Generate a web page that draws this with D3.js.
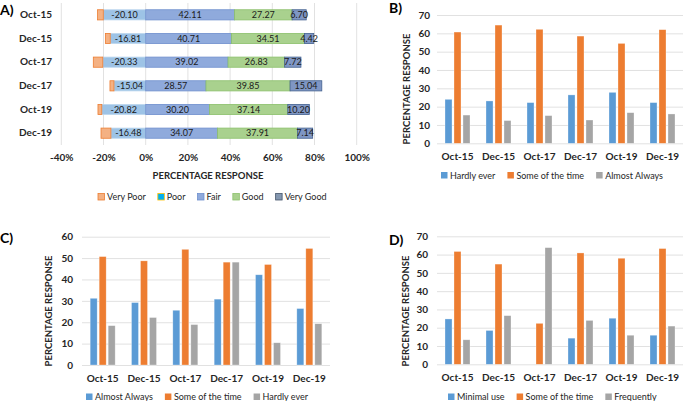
<!DOCTYPE html>
<html><head><meta charset="utf-8">
<script src="https://cdn.jsdelivr.net/npm/d3@7"></script>
<style>body{margin:0;background:#fff}svg{display:block;font-family:Lato,"Open Sans",sans-serif}</style>
</head><body><svg id="c" width="685" height="401"></svg>
<script>
// ---------- DATA ----------
const categories = ["Oct-15","Dec-15","Oct-17","Dec-17","Oct-19","Dec-19"];

// Panel A (stacked, percent)
const aVeryPoor = [2.7, 2.3, 4.5, 1.9, 1.8, 4.7];
const aPoor     = [20.10, 16.81, 20.33, 15.04, 20.82, 16.48];
const aFair     = [42.11, 40.71, 39.02, 28.57, 30.20, 34.07];
const aGood     = [27.27, 34.51, 26.83, 39.85, 37.14, 37.91];
const aVeryGood = [6.70, 4.42, 7.72, 15.04, 10.20, 7.14];
const aTicks = [-40,-20,0,20,40,60,80,100];
const aLegend = ["Very Poor","Poor","Fair","Good","Very Good"];

// Panel B
const bSeries = ["Hardly ever","Some of the time","Almost Always"];
const bHardly = [24.0, 23.1, 22.2, 26.4, 27.8, 22.2];
const bSome   = [60.7, 64.5, 62.2, 58.5, 54.5, 62.0];
const bAlmost = [15.4, 12.4, 15.1, 12.7, 16.7, 16.0];

// Panel C
const cSeries = ["Almost Always","Some of the time","Hardly ever"];
const cAlmost = [31.2, 29.2, 25.6, 30.8, 42.2, 26.4];
const cSome   = [50.7, 48.7, 54.1, 48.1, 47.0, 54.5];
const cHardly = [18.4, 22.2, 18.9, 48.1, 10.4, 19.3];

// Panel D
const dSeries = ["Minimal use","Some of the time","Frequently"];
const dMinimal = [24.8, 18.5, 0, 14.3, 25.2, 15.9];
const dSome    = [61.7, 54.8, 22.4, 60.9, 58.0, 63.3];
const dFreq    = [13.4, 26.6, 63.8, 24.0, 15.9, 20.9];

const yTicks70 = [0,10,20,30,40,50,60,70];
const yTicks60 = [0,10,20,30,40,50,60];

// ---------- DRAW ----------
const svg = d3.select("#c");
const TXT = "#262626";
const GRID = "#d9d9d9";

function panelLabel(t, x, y){
  svg.append("text").attr("x",x).attr("y",y).attr("font-size",14).attr("font-weight","bold")
    .attr("fill","#000").text(t);
}

function legend(items, colors, strokes, x, y){
  const g = svg.append("g");
  let cx = x;
  items.forEach((name,i)=>{
    g.append("rect").attr("x",cx).attr("y",y-6.5).attr("width",6.5).attr("height",6.5)
      .attr("fill",colors[i]).attr("stroke",strokes ? strokes[i] : "none").attr("stroke-width",strokes?0.8:0);
    const t = g.append("text").attr("x",cx+9).attr("y",y).attr("font-size",9).attr("fill",TXT).text(name);
    cx += 9 + t.node().getComputedTextLength() + 12;
  });
}

// ===== Panel A =====
panelLabel("A)", 0, 15);
const xA = d3.scaleLinear().domain([-40,100]).range([61.3,356.7]);
const yA = d3.scaleBand().domain(categories).range([3,145]).paddingInner(0.57).paddingOuter(0.285);
const gA = svg.append("g");
gA.selectAll("line.g").data(aTicks).join("line").attr("class","g")
  .attr("x1",d=>xA(d)).attr("x2",d=>xA(d)).attr("y1",3).attr("y2",145).attr("stroke",GRID).attr("stroke-width",0.8);

const rowsA = categories.map((c,i)=>({cat:c, Poor:-aPoor[i], VeryPoor:-aVeryPoor[i], Fair:aFair[i], Good:aGood[i], VeryGood:aVeryGood[i]}));
const keysA = ["Poor","VeryPoor","Fair","Good","VeryGood"];
const fillA = {VeryPoor:"#f4b183", Poor:"#9dc3e6", Fair:"#8faadc", Good:"#a9d18e", VeryGood:"#7f96c4"};
const strokeA = {VeryPoor:"#ed7d31", Poor:"#bdd7ee", Fair:"#6f8fce", Good:"#8cc06c", VeryGood:"#44628f"};
const stackA = d3.stack().keys(keysA).offset(d3.stackOffsetDiverging)(rowsA);
stackA.forEach(layer=>{
  gA.append("g").selectAll("rect").data(layer).join("rect")
    .attr("x",d=>xA(Math.min(d[0],d[1]))).attr("width",d=>Math.abs(xA(d[1])-xA(d[0])))
    .attr("y",d=>yA(d.data.cat)).attr("height",yA.bandwidth())
    .attr("fill",fillA[layer.key]).attr("stroke",strokeA[layer.key]).attr("stroke-width",0.8);
  if(layer.key!=="VeryPoor"){
    gA.append("g").selectAll("text").data(layer).join("text")
      .attr("x",d=>xA((d[0]+d[1])/2)).attr("y",d=>yA(d.data.cat)+yA.bandwidth()/2+3.2)
      .attr("text-anchor","middle").attr("font-size",9).attr("fill","#1a1a1a")
      .text(d=>d.data[layer.key].toFixed(2));
  }
});
const axA = svg.append("g").attr("transform","translate(56,0)")
  .call(d3.axisLeft(yA).tickSize(0).tickPadding(4));
axA.select(".domain").remove();
axA.selectAll("text").attr("font-size",10).attr("font-weight","bold").attr("fill",TXT).attr("font-family","Lato");
const axAx = svg.append("g").attr("transform","translate(0,154)")
  .call(d3.axisBottom(xA).tickValues(aTicks).tickSize(0).tickPadding(0).tickFormat(d=>d+"%"));
axAx.select(".domain").remove();
axAx.selectAll("text").attr("font-size",10).attr("font-weight","bold").attr("fill",TXT).attr("font-family","Lato");
svg.append("text").attr("x",208).attr("y",178.5).attr("text-anchor","middle").attr("font-size",9.5)
  .attr("font-weight","bold").attr("fill",TXT).text("PERCENTAGE RESPONSE");
legend(aLegend, ["#f4b183","#00b0f0","#8faadc","#a9d18e","#8497b0"], ["#ed7d31","#ffc000","#6f8fce","#8cc06c","#44546a"], 98, 200);

// ===== Bar panels =====
const barColors = ["#5b9bd5","#ed7d31","#a5a5a5"];
function barPanel(cfg){
  const x0 = d3.scaleBand().domain(categories).range([cfg.left,cfg.right]);
  const x1 = d3.scaleBand().domain(cfg.series).range([-12.5,12.5]).paddingInner(0.222);
  const y = d3.scaleLinear().domain([0,cfg.yMax]).range([cfg.bottom,cfg.top]);
  const g = svg.append("g");
  const ya = g.append("g").attr("transform",`translate(${cfg.left},0)`)
    .call(d3.axisLeft(y).tickValues(cfg.ticks).tickSize(-(cfg.right-cfg.left)).tickPadding(cfg.tickPad));
  ya.select(".domain").remove();
  ya.selectAll("line").attr("stroke",GRID).attr("stroke-width",0.8);
  ya.selectAll("text").attr("font-size",10).attr("font-weight","bold").attr("fill",TXT).attr("font-family","Lato");
  cfg.values.forEach((vals,si)=>{
    g.append("g").selectAll("rect").data(vals.map((v,i)=>({c:categories[i],v}))).join("rect")
      .attr("x",d=>x0(d.c)+x0.bandwidth()/2+x1(cfg.series[si]))
      .attr("width",x1.bandwidth())
      .attr("y",d=>y(d.v)).attr("height",d=>y(0)-y(d.v))
      .attr("fill",barColors[si]).attr("stroke","#fff").attr("stroke-opacity",0.5).attr("stroke-width",0.6);
  });
  const xa = g.append("g").attr("transform",`translate(0,${cfg.bottom})`)
    .call(d3.axisBottom(x0).tickSize(0).tickPadding(9.5));
  xa.select(".domain").remove();
  xa.selectAll("text").attr("font-size",10).attr("font-weight","bold").attr("fill",TXT).attr("font-family","Lato");
  g.append("text").attr("transform",`translate(${cfg.titleX},${cfg.titleY}) rotate(-90)`)
    .attr("text-anchor","middle").attr("font-size",9.5).attr("font-weight","bold").attr("fill",TXT)
    .text("PERCENTAGE RESPONSE");
  legend(cfg.series, barColors, null, cfg.legendX, cfg.legendY);
}

panelLabel("B)", 389, 13);
barPanel({left:437,right:683,top:15,bottom:143.3,yMax:70,ticks:yTicks70,tickPad:7,
  series:bSeries,values:[bHardly,bSome,bAlmost],titleX:410,titleY:89,legendX:441,legendY:178.5});

panelLabel("C)", 0, 243);
barPanel({left:82,right:330,top:236.7,bottom:365,yMax:60,ticks:yTicks60,tickPad:9,
  series:cSeries,values:[cAlmost,cSome,cHardly],titleX:52,titleY:311,legendX:86,legendY:400});

panelLabel("D)", 389, 245);
barPanel({left:437,right:683,top:236.3,bottom:364.3,yMax:70,ticks:yTicks70,tickPad:9,
  series:dSeries,values:[dMinimal,dSome,dFreq],titleX:409,titleY:311,legendX:448,legendY:400});
</script></body></html>
